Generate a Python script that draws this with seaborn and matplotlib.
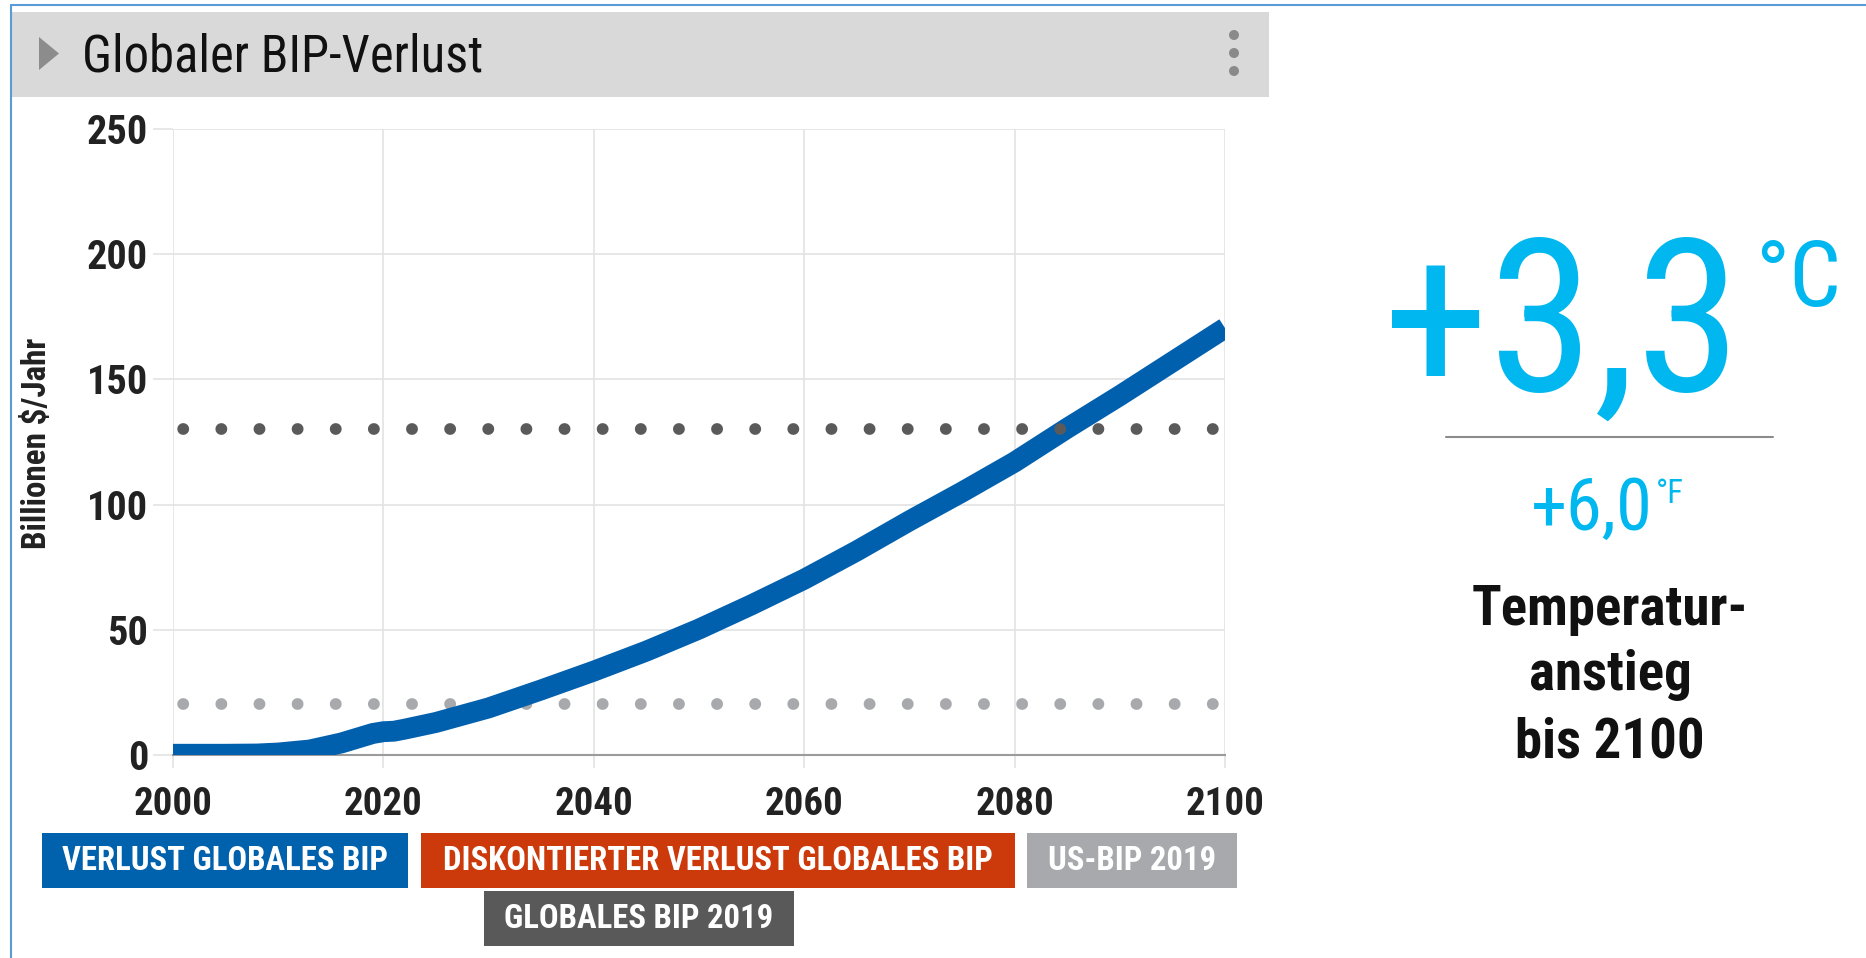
import matplotlib
matplotlib.use("Agg")
import matplotlib.pyplot as plt
from matplotlib import font_manager
from matplotlib.patches import Rectangle, Polygon, Circle
from matplotlib.lines import Line2D
from matplotlib.transforms import Affine2D
import seaborn as sns

# data (Billionen $/Jahr)
years = [2000, 2005, 2008, 2010, 2013, 2016, 2019, 2020, 2021, 2022, 2025, 2030, 2035,
         2040, 2045, 2050, 2055, 2060, 2065, 2070, 2075, 2080, 2085, 2090, 2095, 2100]
loss = [0.3, 0.3, 0.4, 0.8, 2.0, 4.8, 8.6, 9.3, 9.5, 10.3, 13.0, 18.8, 26.0,
        33.5, 41.5, 50.3, 60.0, 70.2, 81.5, 93.5, 105.0, 117.0, 130.5, 143.5, 157.0, 170.5]
global_gdp_2019 = 130
us_gdp_2019 = 20.5

x_ticks = [2000, 2020, 2040, 2060, 2080, 2100]
y_ticks = [0, 50, 100, 150, 200, 250]

legend_labels = ["VERLUST GLOBALES BIP", "DISKONTIERTER VERLUST GLOBALES BIP",
                 "US-BIP 2019", "GLOBALES BIP 2019"]
legend_colors = ["#0061ad", "#cc3a0b", "#a7a9ac", "#595959"]

temp_c = "+3,3"
temp_f = "+6,0"

W, H = 1866, 958
CYAN = "#00b8ef"
BLUE = "#0060ae"


def pick(names):
    for n in names:
        try:
            font_manager.findfont(font_manager.FontProperties(family=n),
                                  fallback_to_default=False)
            return n
        except ValueError:
            continue
    return "DejaVu Sans"


narrow = pick(["Roboto Condensed", "Liberation Sans Narrow", "Roboto"])

sns.set_theme(style="whitegrid")
plt.rcParams["font.family"] = [narrow, "DejaVu Sans"]

fig = plt.figure(figsize=(W / 100, H / 100), dpi=100)
fig.patch.set_facecolor("white")
# pixel coordinates, origin top-left
px = Affine2D().scale(1 / 100, -1 / 100).translate(0, H / 100) + fig.dpi_scale_trans
renderer = fig.canvas.get_renderer()


def fit(t, width):
    w = t.get_window_extent(renderer).width
    t.set_fontsize(t.get_fontsize() * width / w)
    return t


# outer frame
fig.add_artist(Line2D([11, W], [5, 5], transform=px, color="#5b9bd5", lw=1.5))
fig.add_artist(Line2D([11, 11], [5, H], transform=px, color="#5b9bd5", lw=1.5))

# header bar
fig.add_artist(Rectangle((12, 12), 1257, 85, transform=px, color="#d9d9d9", lw=0))
fig.add_artist(Polygon([(39, 37), (39, 70), (59, 53.5)], closed=True, transform=px,
                       color="#8c8c8c", lw=0))
for yy in [35, 53, 71]:
    fig.add_artist(Circle((1234, yy), 5, transform=px, color="#8a8a8a", lw=0))
title = fig.text(82, 71, "Globaler BIP-Verlust", transform=px, ha="left", va="baseline",
                 fontsize=36, color="#111111")
fit(title, 401)

# main chart
ax = fig.add_axes([173 / W, 1 - 755 / H, (1225 - 173) / W, (755 - 129) / H])
ax.set_facecolor("white")
dots = (2.37, (0.01, 3.22))
ax.axhline(us_gdp_2019, color="#a7a9ac", lw=8.5, linestyle=dots,
           dash_capstyle="round", zorder=2)
sns.lineplot(x=years, y=loss, ax=ax, color=BLUE, linewidth=15,
             solid_joinstyle="round", solid_capstyle="butt", zorder=3)
ax.axhline(global_gdp_2019, color="#5a5a5a", lw=8.5, linestyle=dots,
           dash_capstyle="round", zorder=4)

ax.set_xlim(2000, 2100)
ax.set_ylim(0, 250)
ax.set_xticks(x_ticks)
ax.set_yticks(y_ticks)
ax.grid(color="#e3e3e3", lw=1.2)
for s in ["top", "right", "left"]:
    ax.spines[s].set_visible(False)
ax.spines["bottom"].set_color("#9b9b9b")
ax.spines["bottom"].set_linewidth(1.5)
ax.tick_params(axis="x", bottom=True, length=9, width=1.2, color="#e3e3e3", pad=13,
               labelsize=28, labelcolor="#222222")
ax.tick_params(axis="y", left=True, length=14.4, width=1.2, color="#e3e3e3", pad=3.5,
               labelsize=29, labelcolor="#222222")
for lab in ax.get_xticklabels() + ax.get_yticklabels():
    lab.set_fontweight("bold")
ax.set_xlabel("")
ax.set_ylabel("")

ylab = fig.text(37, 443, "Billionen $/Jahr", transform=px, ha="center", va="center",
                fontsize=20, fontweight="bold", color="#222222")
fit(ylab, 211)
ylab.set_rotation(90)

# legend chips
boxes = [(42, 833, 366, 55), (421, 833, 594, 55), (1027, 833, 210, 55), (484, 891, 310, 55)]
chip_size = None
for label, color, (bx, by, bw, bh) in zip(legend_labels, legend_colors, boxes):
    fig.add_artist(Rectangle((bx, by), bw, bh, transform=px, color=color, lw=0))
    t = fig.text(bx + bw / 2, by + bh / 2 + 1, label, transform=px, ha="center",
                 va="center", fontsize=22, fontweight="bold", color="white")
    if chip_size is None:
        fit(t, 325)
        chip_size = t.get_fontsize()
    else:
        t.set_fontsize(chip_size)

# temperature panel
big = fig.text(1383, 391, temp_c, transform=px, ha="left", va="baseline",
               fontsize=168, color=CYAN)
fit(big, 358)
bb = big.get_window_extent(renderer)
deg_c = fig.text(bb.x1 + 14, 306, "°C", transform=px, ha="left", va="baseline",
                 fontsize=68, color=CYAN)
fit(deg_c, 86)

fig.add_artist(Line2D([1446, 1773], [437, 437], transform=px, color="#8c8c8c", lw=1.5))

small = fig.text(1531, 530, temp_f, transform=px, ha="left", va="baseline",
                 fontsize=54, color=CYAN)
fit(small, 122)
bb = small.get_window_extent(renderer)
deg_f = fig.text(bb.x1 + 3, 503, "°F", transform=px, ha="left", va="baseline",
                 fontsize=23, color=CYAN)
fit(deg_f, 28)

cap_lines = ["Temperatur-", "anstieg", "bis 2100"]
baselines = [625, 690, 758]
cap_size = None
for line, yb in zip(cap_lines, baselines):
    t = fig.text(1610, yb, line, transform=px, ha="center", va="baseline",
                 fontsize=39, fontweight="bold", color="#111111")
    if cap_size is None:
        fit(t, 276)
        cap_size = t.get_fontsize()
    else:
        t.set_fontsize(cap_size)

fig.savefig("out.png", dpi=100, facecolor="white")
